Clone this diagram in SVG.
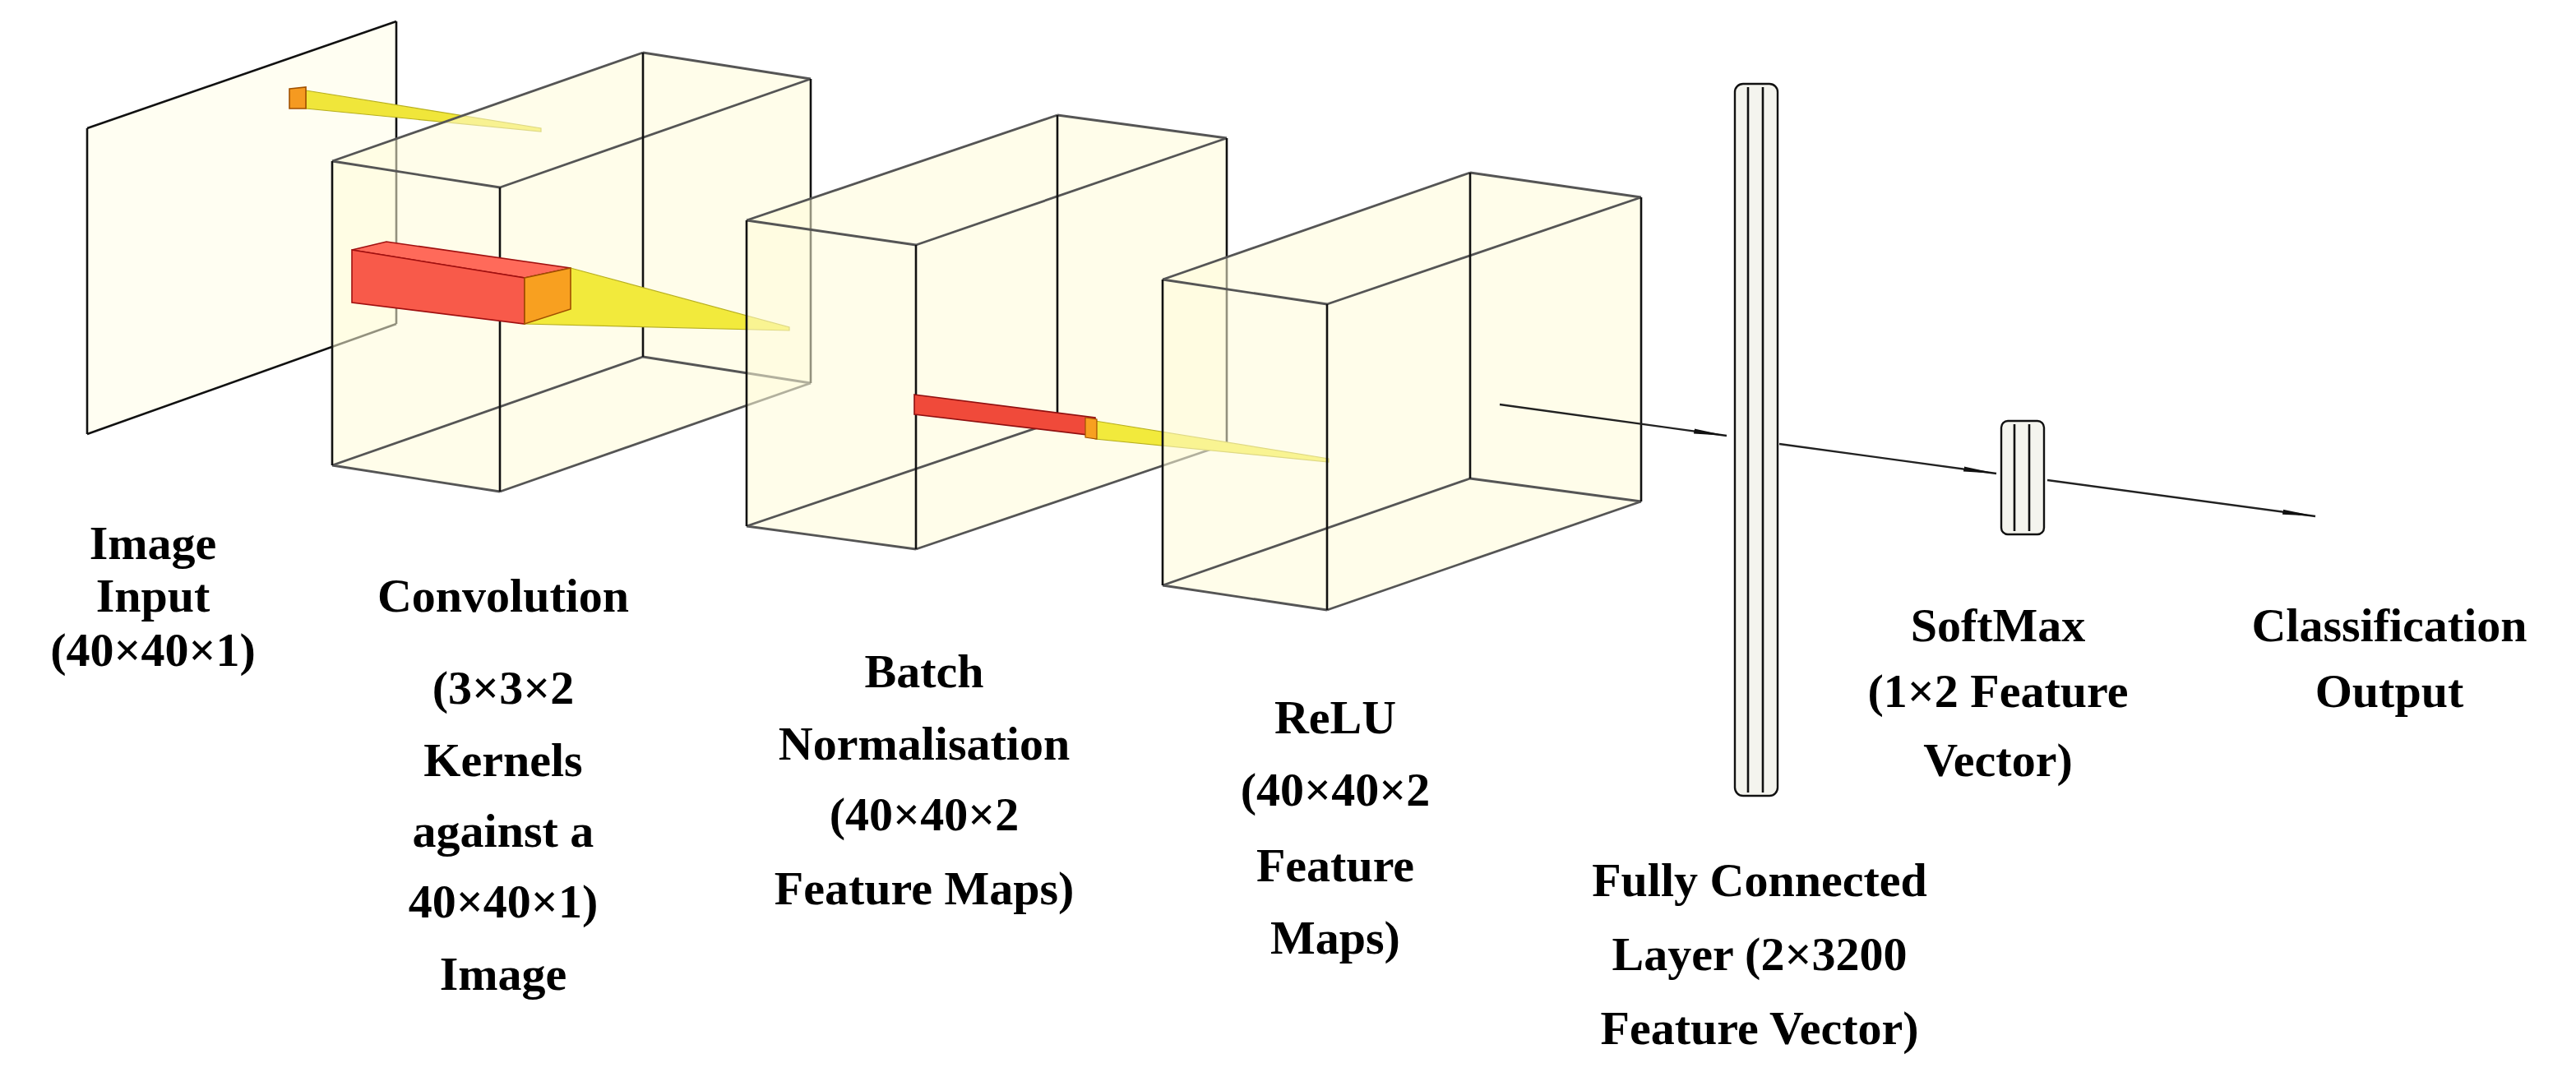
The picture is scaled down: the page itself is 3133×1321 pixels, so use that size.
<svg xmlns="http://www.w3.org/2000/svg" width="3133" height="1321" viewBox="0 0 3133 1321">
<defs>
<style>
.face{fill:#fffbd8;fill-opacity:0.55;stroke:none}
.v{stroke:#111;stroke-width:1.3;fill:none}
.d{stroke:#555;stroke-width:1.4;fill:none}
.lbl{font-family:"Liberation Serif",serif;font-weight:bold;font-size:29px;fill:#000;text-anchor:middle}
.cn{stroke:#222;stroke-width:1.2;fill:none}
.bar{fill:#f4f4ee;stroke:#111;stroke-width:1.2}
</style>
<marker id="ah" viewBox="0 0 20 6" refX="20" refY="3" markerWidth="20" markerHeight="6" markerUnits="userSpaceOnUse" orient="auto">
<path d="M0,1.5 L20,3 L0,4.5 Z" fill="#111"/>
</marker>
</defs>
<rect width="3133" height="1321" fill="#fff"/>
<g transform="scale(2)">
<g id="image-input">
<polygon points="53,78 241,13 241,197 53,264" fill="#fffef2" stroke="none"/>
<line class="v" x1="53" y1="78" x2="241" y2="13" stroke-width="1.6"/>
<line class="v" x1="53" y1="264" x2="241" y2="197" stroke-width="1.6"/>
<line class="v" x1="53" y1="78" x2="53" y2="264" stroke-width="1.6"/>
<line class="v" x1="241" y1="13" x2="241" y2="197" stroke-width="1.6"/>
<polygon points="186,55 329,78 329,80 186,66" fill="#f0e63a" stroke="#b8b020" stroke-width="0.6"/>
<polygon points="176,54 186,53 186,66 176,66" fill="#f59a20" stroke="#a05000" stroke-width="0.8"/>
</g>
<g id="convolution">
<polygon class="face" points="202,98 391,32 493,48 493,233 304,299 202,283"/>
<line class="d" x1="202" y1="98" x2="391" y2="32"/><line class="d" x1="304" y1="114" x2="493" y2="48"/>
<line class="d" x1="304" y1="299" x2="493" y2="233"/><line class="d" x1="202" y1="283" x2="391" y2="217"/>
<line class="d" x1="202" y1="98" x2="304" y2="114"/><line class="d" x1="391" y1="32" x2="493" y2="48"/>
<line class="d" x1="202" y1="283" x2="304" y2="299"/><line class="d" x1="391" y1="217" x2="493" y2="233"/>
<line class="v" x1="202" y1="98" x2="202" y2="283"/><line class="v" x1="304" y1="114" x2="304" y2="299"/>
<line class="v" x1="391" y1="32" x2="391" y2="217"/><line class="v" x1="493" y1="48" x2="493" y2="233"/>
<polygon points="214,152 235,147 347,163 319,169" fill="#ff6a5a" stroke="#a01010" stroke-width="0.8"/>
<polygon points="214,152 319,169 319,197 214,184" fill="#f85a4a" stroke="#a01010" stroke-width="0.8"/>
<polygon points="347,163 480,199 480,201 319,197" fill="#f2ea3c" stroke="#b8b020" stroke-width="0.6"/>
<polygon points="319,169 347,163 347,188 319,197" fill="#f8a020" stroke="#a05000" stroke-width="0.8"/>
</g>
<g id="batch-normalisation">
<polygon class="face" points="454,134 643,70 746,84 746,270 557,334 454,320"/>
<line class="d" x1="454" y1="134" x2="643" y2="70"/><line class="d" x1="557" y1="149" x2="746" y2="84"/>
<line class="d" x1="557" y1="334" x2="746" y2="270"/><line class="d" x1="454" y1="320" x2="643" y2="256"/>
<line class="d" x1="454" y1="134" x2="557" y2="149"/><line class="d" x1="643" y1="70" x2="746" y2="84"/>
<line class="d" x1="454" y1="320" x2="557" y2="334"/><line class="d" x1="643" y1="256" x2="746" y2="270"/>
<line class="v" x1="454" y1="134" x2="454" y2="320"/><line class="v" x1="557" y1="149" x2="557" y2="334"/>
<line class="v" x1="643" y1="70" x2="643" y2="256"/><line class="v" x1="746" y1="84" x2="746" y2="270"/>
<polygon points="556,240 666,254 666,265 556,252" fill="#f04a3a" stroke="#901010" stroke-width="0.8"/>
<polygon points="666,256 808,279 808,281 666,267" fill="#f2ea3c" stroke="#b8b020" stroke-width="0.6"/>
<polygon points="660,254 667,255 667,267 660,266" fill="#f8a020" stroke="#a05000" stroke-width="0.6"/>
</g>
<g id="relu">
<polygon class="face" points="707,170 894,105 998,120 998,305 807,371 707,356"/>
<line class="d" x1="707" y1="170" x2="894" y2="105"/><line class="d" x1="807" y1="185" x2="998" y2="120"/>
<line class="d" x1="807" y1="371" x2="998" y2="305"/><line class="d" x1="707" y1="356" x2="894" y2="291"/>
<line class="d" x1="707" y1="170" x2="807" y2="185"/><line class="d" x1="894" y1="105" x2="998" y2="120"/>
<line class="d" x1="707" y1="356" x2="807" y2="371"/><line class="d" x1="894" y1="291" x2="998" y2="305"/>
<line class="v" x1="707" y1="170" x2="707" y2="356"/><line class="v" x1="807" y1="185" x2="807" y2="371"/>
<line class="v" x1="894" y1="105" x2="894" y2="291"/><line class="v" x1="998" y1="120" x2="998" y2="305"/>
</g>
<g id="fully-connected">
<rect class="bar" x="1055" y="51" width="26" height="433" rx="5"/>
<line class="v" x1="1063" y1="53" x2="1063" y2="482"/><line class="v" x1="1072" y1="53" x2="1072" y2="482"/>
</g>
<g id="softmax">
<rect class="bar" x="1217" y="256" width="26" height="69" rx="4"/>
<line class="v" x1="1225" y1="258" x2="1225" y2="323"/><line class="v" x1="1234" y1="258" x2="1234" y2="323"/>
</g>
<g id="classification-output"></g>
<g id="connectors">
<line class="cn" x1="912" y1="246" x2="1050" y2="265" marker-end="url(#ah)"/>
<line class="cn" x1="1082" y1="270" x2="1214" y2="288" marker-end="url(#ah)"/>
<line class="cn" x1="1245" y1="292" x2="1408" y2="314" marker-end="url(#ah)"/>
</g>
<g id="labels">
<text class="lbl" x="93" y="340">Image</text>
<text class="lbl" x="93" y="372">Input</text>
<text class="lbl" x="93" y="405">(40×40×1)</text>
<text class="lbl" x="306" y="372">Convolution</text>
<text class="lbl" x="306" y="428">(3×3×2</text>
<text class="lbl" x="306" y="472">Kernels</text>
<text class="lbl" x="306" y="515">against a</text>
<text class="lbl" x="306" y="558">40×40×1)</text>
<text class="lbl" x="306" y="602">Image</text>
<text class="lbl" x="562" y="418">Batch</text>
<text class="lbl" x="562" y="462">Normalisation</text>
<text class="lbl" x="562" y="505">(40×40×2</text>
<text class="lbl" x="562" y="550">Feature Maps)</text>
<text class="lbl" x="812" y="446">ReLU</text>
<text class="lbl" x="812" y="490">(40×40×2</text>
<text class="lbl" x="812" y="536">Feature</text>
<text class="lbl" x="812" y="580">Maps)</text>
<text class="lbl" x="1070" y="545">Fully Connected</text>
<text class="lbl" x="1070" y="590">Layer (2×3200</text>
<text class="lbl" x="1070" y="635">Feature Vector)</text>
<text class="lbl" x="1215" y="390">SoftMax</text>
<text class="lbl" x="1215" y="430">(1×2 Feature</text>
<text class="lbl" x="1215" y="472">Vector)</text>
<text class="lbl" x="1453" y="390">Classification</text>
<text class="lbl" x="1453" y="430">Output</text>
</g>
</g>
</svg>
